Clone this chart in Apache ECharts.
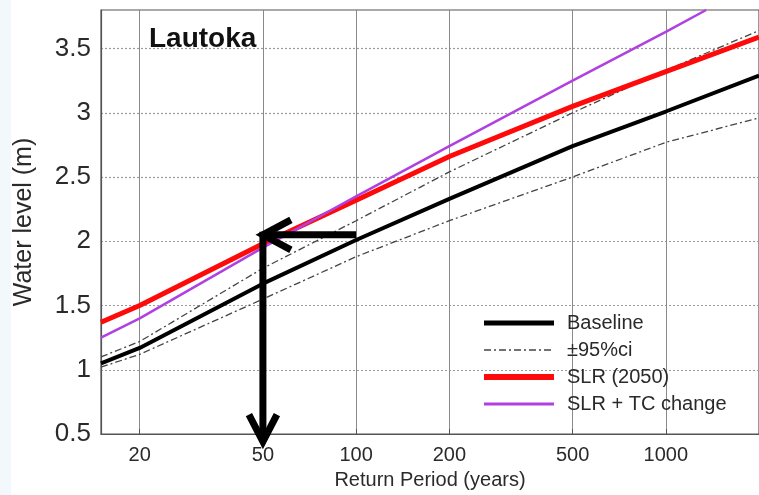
<!DOCTYPE html>
<html>
<head>
<meta charset="utf-8">
<script src="https://cdn.jsdelivr.net/npm/echarts@6/dist/echarts.min.js"></script>
<style>
  html, body { margin: 0; padding: 0; background: #ffffff; }
  #chart { width: 759px; height: 495px; }
</style>
</head>
<body>
<div id="chart"></div>
<script>
// Return periods (years) at which the curves are sampled
const returnPeriods = [15, 20, 50, 100, 200, 500, 1000, 2000];

// Water levels (m) for each scenario
const baseline   = [1.05, 1.17, 1.67, 2.01, 2.33, 2.74, 3.01, 3.29];
const ciUpper    = [1.10, 1.22, 1.79, 2.16, 2.54, 3.00, 3.33, 3.64];
const ciLower    = [1.02, 1.12, 1.55, 1.88, 2.16, 2.50, 2.77, 2.96];
const slr2050    = [1.37, 1.50, 1.98, 2.32, 2.66, 3.05, 3.32, 3.59];
// SLR + TC change leaves the plot at the top edge
const slrTcPeriods = [15, 20, 50, 100, 200, 500, 1000, 1350];
const slrTc        = [1.25, 1.40, 1.95, 2.35, 2.74, 3.25, 3.63, 3.80];

// Axis ticks
const xTicks = [20, 50, 100, 200, 500, 1000];
const yTicks = [0.5, 1, 1.5, 2, 2.5, 3, 3.5];

// Annotation: a 100-year baseline level becomes a 50-year event
const arrowLevel = 2.05;
const arrowFrom = 100;
const arrowTo = 50;
const arrowBottom = 0.44;

const pairs = (xs, ys) => xs.map((x, i) => [x, ys[i]]);

const FONT = '"Liberation Sans", Arial, Helvetica, sans-serif';
const dashDot = [7, 3, 2, 3];
const TEXT = '#2a2a2a';

const chart = echarts.init(document.getElementById('chart'), null, { renderer: 'canvas' });

chart.setOption({
  backgroundColor: '#ffffff',
  animation: false,
  title: {
    text: 'Lautoka',
    left: 144,
    top: 20,
    textStyle: { fontFamily: FONT, fontSize: 28, fontWeight: 'bold', color: '#111' }
  },
  grid: {
    left: 101, top: 10, width: 669, height: 427,
    show: true, borderColor: '#555', borderWidth: 1.2, backgroundColor: '#ffffff'
  },
  legend: {
    orient: 'vertical',
    left: 476,
    top: 308,
    itemWidth: 70,
    itemHeight: 14,
    itemGap: 7,
    itemStyle: { opacity: 0 },
    textStyle: { fontFamily: FONT, fontSize: 20, color: TEXT, lineHeight: 20, padding: [0, 0, 0, 8] },
    data: [
      { name: 'Baseline', lineStyle: { width: 5 } },
      { name: '±95%ci', lineStyle: { width: 1.6 } },
      { name: 'SLR (2050)', lineStyle: { width: 6 } },
      { name: 'SLR + TC change', lineStyle: { width: 3 } }
    ]
  },
  xAxis: {
    type: 'log',
    logBase: 10,
    min: 15,
    max: 2000,
    name: 'Return Period (years)',
    nameLocation: 'middle',
    nameGap: 36,
    nameTextStyle: { fontFamily: FONT, fontSize: 20, color: TEXT },
    axisLine: { show: true, lineStyle: { color: '#555', width: 1.2 } },
    axisTick: { show: true, inside: true, length: 5, customValues: xTicks, lineStyle: { color: '#555' } },
    axisLabel: {
      customValues: xTicks,
      margin: 11,
      fontFamily: FONT, fontSize: 20, color: TEXT,
      formatter: v => String(Math.round(v))
    },
    splitLine: { show: true, lineStyle: { color: '#8a8a8a', width: 1, type: 'solid' } },
    minorTick: { show: false },
    minorSplitLine: { show: false }
  },
  yAxis: {
    type: 'value',
    min: 0.5,
    max: 3.8,
    interval: 0.5,
    name: 'Water level (m)',
    nameLocation: 'middle',
    nameGap: 64,
    nameTextStyle: { fontFamily: FONT, fontSize: 25, color: TEXT },
    axisLine: { show: true, lineStyle: { color: '#555', width: 1.2 } },
    axisTick: { show: false, customValues: yTicks },
    axisLabel: {
      customValues: yTicks,
      margin: 10,
      fontFamily: FONT, fontSize: 26, color: TEXT,
      formatter: v => String(v)
    },
    splitLine: { show: true, lineStyle: { color: '#9a9a9a', width: 1.2, type: [2, 2] } }
  },
  series: [
    {
      name: 'Baseline', type: 'line', symbol: 'none', z: 3,
      data: pairs(returnPeriods, baseline),
      lineStyle: { color: '#000000', width: 4 }, itemStyle: { color: '#000000' }
    },
    {
      name: '±95%ci', type: 'line', symbol: 'none', z: 2,
      data: pairs(returnPeriods, ciUpper),
      lineStyle: { color: '#444444', width: 1.3, type: dashDot }, itemStyle: { color: '#444444' }
    },
    {
      name: '±95%ci', type: 'line', symbol: 'none', z: 2,
      data: pairs(returnPeriods, ciLower),
      lineStyle: { color: '#444444', width: 1.3, type: dashDot }, itemStyle: { color: '#444444' }
    },
    {
      name: 'SLR (2050)', type: 'line', symbol: 'none', z: 4,
      data: pairs(returnPeriods, slr2050),
      lineStyle: { color: '#ff0a0a', width: 5 }, itemStyle: { color: '#ff0a0a' }
    },
    {
      name: 'SLR + TC change', type: 'line', symbol: 'none', z: 5,
      data: pairs(slrTcPeriods, slrTc),
      lineStyle: { color: '#b040e0', width: 2.5 }, itemStyle: { color: '#b040e0' }
    }
  ]
});

// Arrows placed in data coordinates through the grid's own scales
const pFrom = chart.convertToPixel({ gridIndex: 0 }, [arrowFrom, arrowLevel]);
const pTip = chart.convertToPixel({ gridIndex: 0 }, [arrowTo, arrowLevel]);
const pBottom = chart.convertToPixel({ gridIndex: 0 }, [arrowTo, arrowBottom]);

const arrowStyle = { stroke: '#000000', lineWidth: 7, fill: null, lineCap: 'butt', lineJoin: 'miter' };

chart.setOption({
  graphic: [
    {
      type: 'rect', left: 0, top: 0, z: -10, silent: true,
      shape: { width: 11, height: 495 }, style: { fill: '#f3f8fc' }
    },
    {
      type: 'polyline', z: 100, silent: true,
      shape: { points: [pFrom, pTip] }, style: arrowStyle
    },
    {
      type: 'polyline', z: 100, silent: true,
      shape: { points: [[pTip[0] + 28, pTip[1] - 15], pTip, [pTip[0] + 28, pTip[1] + 15]] },
      style: arrowStyle
    },
    {
      type: 'polyline', z: 100, silent: true,
      shape: { points: [[pTip[0], pTip[1] - 3], pBottom] }, style: arrowStyle
    },
    {
      type: 'polyline', z: 100, silent: true,
      shape: { points: [[pBottom[0] - 14, pBottom[1] - 27], pBottom, [pBottom[0] + 14, pBottom[1] - 27]] },
      style: arrowStyle
    }
  ]
});
</script>
</body>
</html>
